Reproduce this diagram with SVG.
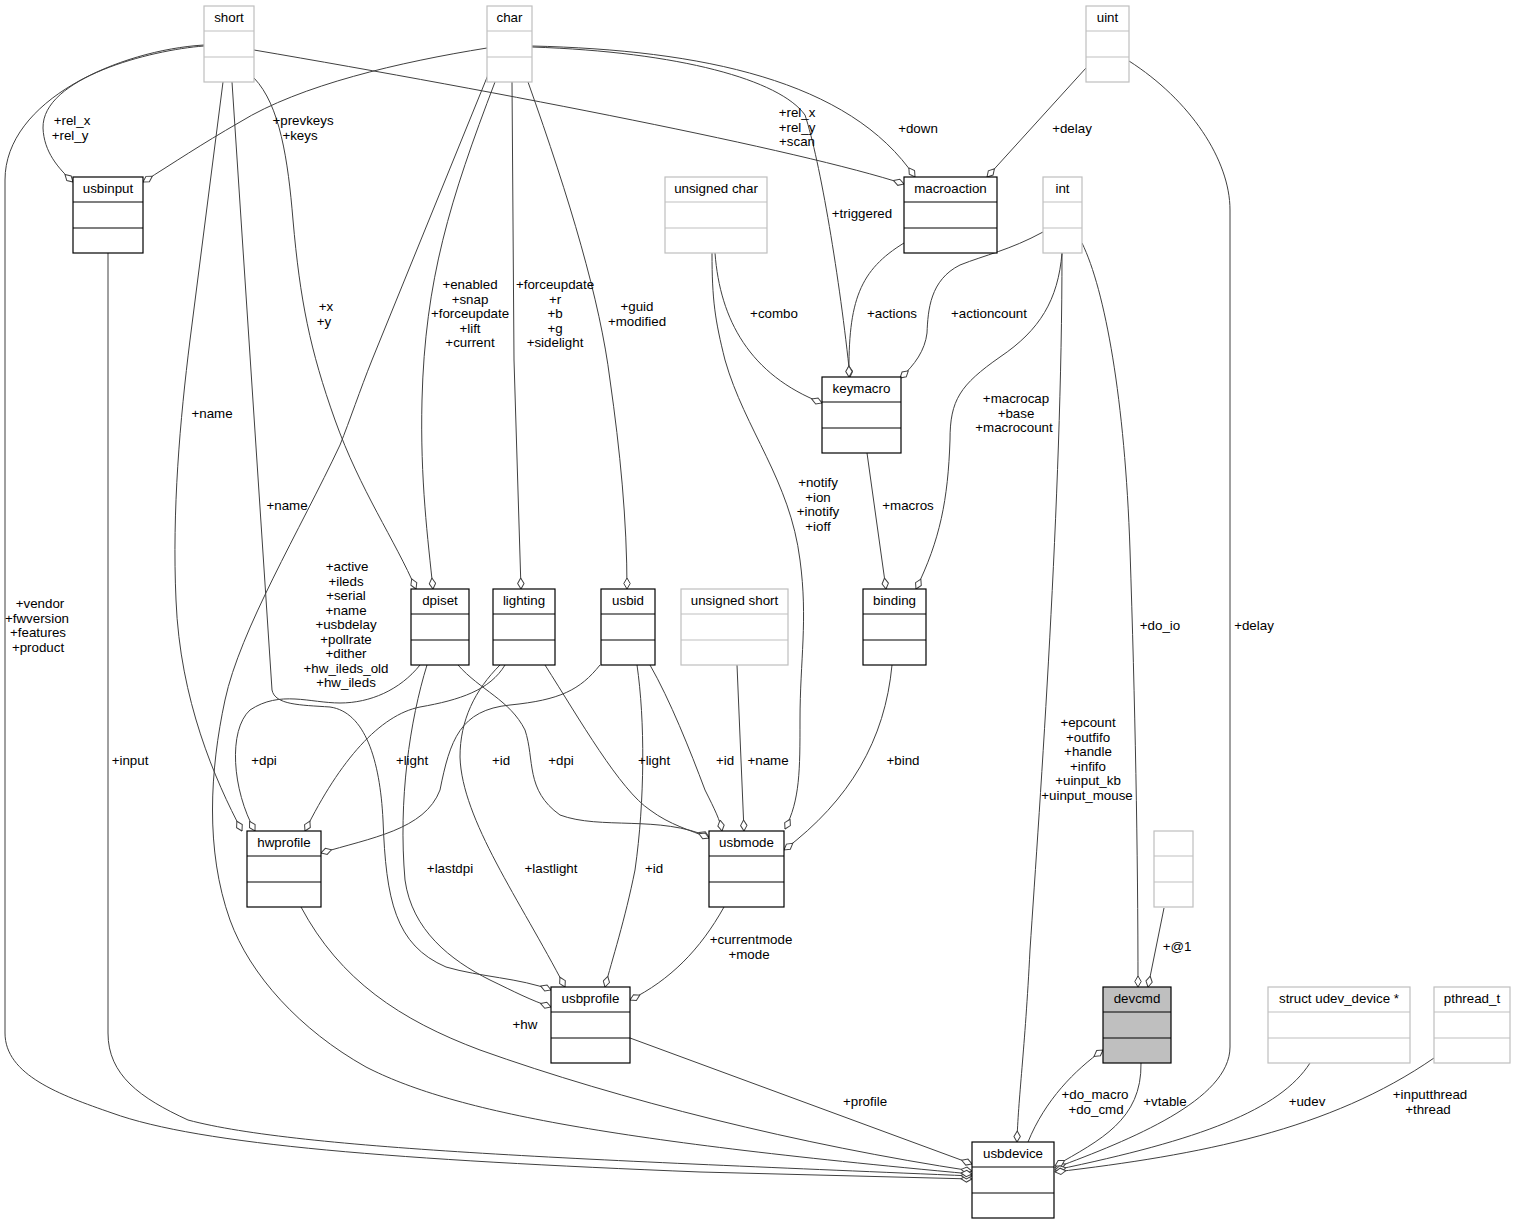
<svg xmlns="http://www.w3.org/2000/svg" width="1516" height="1224" viewBox="0 0 1516 1224">
<style>
text{font-family:"Liberation Sans",Arial,sans-serif;font-size:13.33px;fill:#000;text-anchor:middle}
.n rect{fill:#fff;stroke:#000;stroke-width:1.2}
.n line{stroke:#000;stroke-width:1.2}
.g rect{fill:#fff;stroke:#bfbfbf;stroke-width:1.2}
.g line{stroke:#bfbfbf;stroke-width:1.2}
.s rect{fill:#bfbfbf;stroke:#000;stroke-width:1.2}
.s line{stroke:#000;stroke-width:1.2}
#edges path{fill:none;stroke:#404040;stroke-width:1;marker-end:url(#d)}
</style>
<defs>
<marker id="d" markerWidth="12" markerHeight="8" refX="11.5" refY="4" orient="auto" markerUnits="userSpaceOnUse" viewBox="0 0 12 8"><path d="M0.5,4 L6,0.8 L11.5,4 L6,7.2 Z" fill="#fff" stroke="#404040" stroke-width="1"/></marker>
</defs>
<rect width="1516" height="1224" fill="#fff"/>
<g id="edges">
<path d="M204,46 C150,50 42,78 43,128 C44,152 58,168 73,182"/>
<path d="M204,45 C120,50 5,100 5,180 L5,1033 C5,1075 60,1095 112,1113 C200,1145 400,1160 700,1172 L972,1179"/>
<path d="M108,253 L108,1033 C108,1075 140,1098 188,1120 C300,1150 600,1160 972,1176"/>
<path d="M487,48 C400,62 300,85 240,122 C200,145 175,162 143,182"/>
<path d="M254,50 C500,92 800,150 904,184"/>
<path d="M532,46 C700,50 850,80 915,177"/>
<path d="M532,47 C680,52 780,80 805,115 C820,160 840,280 850,377"/>
<path d="M1086,68 L987,177"/>
<path d="M1129,61 C1190,100 1230,160 1230,210 L1230,1047 C1230,1100 1130,1140 1055,1168"/>
<path d="M904,243 C860,270 848,300 849,377"/>
<path d="M1043,232 C1010,250 985,255 960,265 C930,280 928,310 927,333 C925,350 915,365 900,378"/>
<path d="M715,253 C720,320 750,375 822,403"/>
<path d="M712,253 C712,300 715,320 725,360 C745,430 790,480 800,560 C808,620 800,660 800,720 C800,770 800,800 785,829"/>
<path d="M1062,253 C1058,300 1040,330 1000,357 C960,385 950,400 950,440 C948,500 940,540 916,589"/>
<path d="M1082,243 C1105,290 1125,400 1130,550 C1135,700 1138,850 1138,987"/>
<path d="M1062,253 C1062,500 1040,800 1030,950 C1025,1050 1018,1100 1017,1142"/>
<path d="M1164,908 L1148,987"/>
<path d="M1028,1142 C1045,1100 1075,1070 1103,1050"/>
<path d="M1141,1063 C1142,1120 1100,1140 1055,1166"/>
<path d="M1310,1063 C1280,1110 1200,1140 1055,1170"/>
<path d="M1434,1058 C1330,1130 1200,1155 1055,1172"/>
<path d="M630,1038 L972,1164"/>
<path d="M301,907 C340,980 400,1020 480,1050 C620,1100 800,1145 972,1171"/>
<path d="M490,70 L372,360 C360,390 350,420 340,445 C300,530 240,630 225,700 C210,770 205,850 230,920 C250,975 300,1030 366,1067 C450,1110 600,1140 972,1174"/>
<path d="M223,82 L190,340 C180,420 172,510 176,600 C180,700 215,780 242,831"/>
<path d="M232,82 L272,690 C275,705 300,705 330,707 C365,712 380,760 383,820 C386,900 395,945 446,967 C480,977 520,978 551,990"/>
<path d="M254,78 C280,105 288,160 293,220 C300,300 310,350 335,420 C360,490 395,540 416,589"/>
<path d="M495,82 C450,200 425,280 422,400 C420,480 428,540 433,589"/>
<path d="M512,82 L514,360 L521,589"/>
<path d="M528,82 C570,200 600,300 610,380 C620,450 627,520 627,589"/>
<path d="M867,453 L886,589"/>
<path d="M420,665 C400,690 370,703 340,703 C310,703 280,690 250,710 C228,730 232,790 255,831"/>
<path d="M505,665 C490,690 460,700 420,707 C380,715 340,760 305,831"/>
<path d="M600,665 C580,690 560,700 510,705 C460,710 450,740 440,790 C425,830 370,838 321,853"/>
<path d="M458,665 C480,690 510,700 525,730 C535,760 525,790 560,815 C600,830 660,815 709,837"/>
<path d="M545,665 C580,720 620,790 650,810 C670,825 690,830 709,838"/>
<path d="M500,665 C475,690 460,720 460,757 C462,820 520,900 565,987"/>
<path d="M637,665 C645,720 645,800 635,870 C625,920 612,960 605,987"/>
<path d="M650,665 C670,700 690,750 705,790 C715,810 720,820 722,831"/>
<path d="M737,665 L744,831"/>
<path d="M892,665 C885,740 850,800 784,850"/>
<path d="M724,907 C700,950 670,980 630,1000"/>
<path d="M427,665 C410,720 398,800 405,880 C412,930 450,960 490,980 C515,992 530,1000 551,1007"/>
</g>
<g id="labels">
<text x="72" y="125">+rel_x</text><text x="70" y="140">+rel_y</text>
<text x="303" y="125">+prevkeys</text><text x="300" y="140">+keys</text>
<text x="797" y="117">+rel_x</text><text x="797" y="132">+rel_y</text><text x="797" y="146">+scan</text>
<text x="918" y="133">+down</text>
<text x="1072" y="133">+delay</text>
<text x="862" y="218">+triggered</text>
<text x="774" y="318">+combo</text>
<text x="892" y="318">+actions</text>
<text x="989" y="318">+actioncount</text>
<text x="470" y="289">+enabled</text><text x="470" y="303.5">+snap</text><text x="470" y="318">+forceupdate</text><text x="470" y="332.5">+lift</text><text x="470" y="347">+current</text>
<text x="555" y="289">+forceupdate</text><text x="555" y="303.5">+r</text><text x="555" y="318">+b</text><text x="555" y="332.5">+g</text><text x="555" y="347">+sidelight</text>
<text x="637" y="311">+guid</text><text x="637" y="325.5">+modified</text>
<text x="326" y="311">+x</text><text x="324" y="325.5">+y</text>
<text x="212" y="418">+name</text>
<text x="287" y="510">+name</text>
<text x="1016" y="403">+macrocap</text><text x="1016" y="417.5">+base</text><text x="1014" y="432">+macrocount</text>
<text x="908" y="510">+macros</text>
<text x="818" y="487">+notify</text><text x="818" y="501.5">+ion</text><text x="818" y="516">+inotify</text><text x="818" y="530.5">+ioff</text>
<text x="40" y="608">+vendor</text><text x="37" y="622.5">+fwversion</text><text x="38" y="637">+features</text><text x="38" y="651.5">+product</text>
<text x="347" y="571">+active</text><text x="346" y="585.5">+ileds</text><text x="346" y="600">+serial</text><text x="346" y="614.5">+name</text><text x="346" y="629">+usbdelay</text><text x="346" y="643.5">+pollrate</text><text x="346" y="658">+dither</text><text x="346" y="672.5">+hw_ileds_old</text><text x="346" y="687">+hw_ileds</text>
<text x="130" y="765">+input</text>
<text x="264" y="765">+dpi</text>
<text x="412" y="765">+light</text>
<text x="501" y="765">+id</text>
<text x="561" y="765">+dpi</text>
<text x="654" y="765">+light</text>
<text x="725" y="765">+id</text>
<text x="768" y="765">+name</text>
<text x="903" y="765">+bind</text>
<text x="450" y="873">+lastdpi</text>
<text x="551" y="873">+lastlight</text>
<text x="654" y="873">+id</text>
<text x="751" y="944">+currentmode</text><text x="749" y="959">+mode</text>
<text x="525" y="1029">+hw</text>
<text x="865" y="1106">+profile</text>
<text x="1160" y="630">+do_io</text>
<text x="1254" y="630">+delay</text>
<text x="1088" y="727">+epcount</text><text x="1088" y="741.5">+outfifo</text><text x="1088" y="756">+handle</text><text x="1088" y="770.5">+infifo</text><text x="1088" y="785">+uinput_kb</text><text x="1087" y="799.5">+uinput_mouse</text>
<text x="1177" y="951">+@1</text>
<text x="1095" y="1099">+do_macro</text><text x="1096" y="1113.5">+do_cmd</text>
<text x="1165" y="1106">+vtable</text>
<text x="1307" y="1106">+udev</text>
<text x="1430" y="1099">+inputthread</text><text x="1428" y="1113.5">+thread</text>
</g>
<g id="short" class="g"><rect x="204" y="6" width="50" height="76"/><line x1="204" y1="31" x2="254" y2="31"/><line x1="204" y1="57" x2="254" y2="57"/><text x="229" y="22">short</text></g>
<g id="char" class="g"><rect x="487" y="6" width="45" height="76"/><line x1="487" y1="31" x2="532" y2="31"/><line x1="487" y1="57" x2="532" y2="57"/><text x="509.5" y="22">char</text></g>
<g id="uint" class="g"><rect x="1086" y="6" width="43" height="76"/><line x1="1086" y1="31" x2="1129" y2="31"/><line x1="1086" y1="57" x2="1129" y2="57"/><text x="1107.5" y="22">uint</text></g>
<g id="usbinput" class="n"><rect x="73" y="177" width="70" height="76"/><line x1="73" y1="202" x2="143" y2="202"/><line x1="73" y1="228" x2="143" y2="228"/><text x="108" y="193">usbinput</text></g>
<g id="unsigned_char" class="g"><rect x="665" y="177" width="102" height="76"/><line x1="665" y1="202" x2="767" y2="202"/><line x1="665" y1="228" x2="767" y2="228"/><text x="716" y="193">unsigned char</text></g>
<g id="macroaction" class="n"><rect x="904" y="177" width="93" height="76"/><line x1="904" y1="202" x2="997" y2="202"/><line x1="904" y1="228" x2="997" y2="228"/><text x="950.5" y="193">macroaction</text></g>
<g id="int" class="g"><rect x="1043" y="177" width="39" height="76"/><line x1="1043" y1="202" x2="1082" y2="202"/><line x1="1043" y1="228" x2="1082" y2="228"/><text x="1062.5" y="193">int</text></g>
<g id="keymacro" class="n"><rect x="822" y="377" width="79" height="76"/><line x1="822" y1="402" x2="901" y2="402"/><line x1="822" y1="428" x2="901" y2="428"/><text x="861.5" y="393">keymacro</text></g>
<g id="dpiset" class="n"><rect x="411" y="589" width="58" height="76"/><line x1="411" y1="614" x2="469" y2="614"/><line x1="411" y1="640" x2="469" y2="640"/><text x="440" y="605">dpiset</text></g>
<g id="lighting" class="n"><rect x="493" y="589" width="62" height="76"/><line x1="493" y1="614" x2="555" y2="614"/><line x1="493" y1="640" x2="555" y2="640"/><text x="524" y="605">lighting</text></g>
<g id="usbid" class="n"><rect x="601" y="589" width="54" height="76"/><line x1="601" y1="614" x2="655" y2="614"/><line x1="601" y1="640" x2="655" y2="640"/><text x="628" y="605">usbid</text></g>
<g id="unsigned_short" class="g"><rect x="681" y="589" width="107" height="76"/><line x1="681" y1="614" x2="788" y2="614"/><line x1="681" y1="640" x2="788" y2="640"/><text x="734.5" y="605">unsigned short</text></g>
<g id="binding" class="n"><rect x="863" y="589" width="63" height="76"/><line x1="863" y1="614" x2="926" y2="614"/><line x1="863" y1="640" x2="926" y2="640"/><text x="894.5" y="605">binding</text></g>
<g id="hwprofile" class="n"><rect x="247" y="831" width="74" height="76"/><line x1="247" y1="856" x2="321" y2="856"/><line x1="247" y1="882" x2="321" y2="882"/><text x="284" y="847">hwprofile</text></g>
<g id="usbmode" class="n"><rect x="709" y="831" width="75" height="76"/><line x1="709" y1="856" x2="784" y2="856"/><line x1="709" y1="882" x2="784" y2="882"/><text x="746.5" y="847">usbmode</text></g>
<g id="anon" class="g"><rect x="1154" y="831" width="39" height="76"/><line x1="1154" y1="856" x2="1193" y2="856"/><line x1="1154" y1="882" x2="1193" y2="882"/></g>
<g id="usbprofile" class="n"><rect x="551" y="987" width="79" height="76"/><line x1="551" y1="1012" x2="630" y2="1012"/><line x1="551" y1="1038" x2="630" y2="1038"/><text x="590.5" y="1003">usbprofile</text></g>
<g id="devcmd" class="s"><rect x="1103" y="987" width="68" height="76"/><line x1="1103" y1="1012" x2="1171" y2="1012"/><line x1="1103" y1="1038" x2="1171" y2="1038"/><text x="1137" y="1003">devcmd</text></g>
<g id="udev_device" class="g"><rect x="1268" y="987" width="142" height="76"/><line x1="1268" y1="1012" x2="1410" y2="1012"/><line x1="1268" y1="1038" x2="1410" y2="1038"/><text x="1339" y="1003">struct udev_device *</text></g>
<g id="pthread_t" class="g"><rect x="1434" y="987" width="76" height="76"/><line x1="1434" y1="1012" x2="1510" y2="1012"/><line x1="1434" y1="1038" x2="1510" y2="1038"/><text x="1472" y="1003">pthread_t</text></g>
<g id="usbdevice" class="n"><rect x="972" y="1142" width="82" height="76"/><line x1="972" y1="1167" x2="1054" y2="1167"/><line x1="972" y1="1193" x2="1054" y2="1193"/><text x="1013" y="1158">usbdevice</text></g>
</svg>
